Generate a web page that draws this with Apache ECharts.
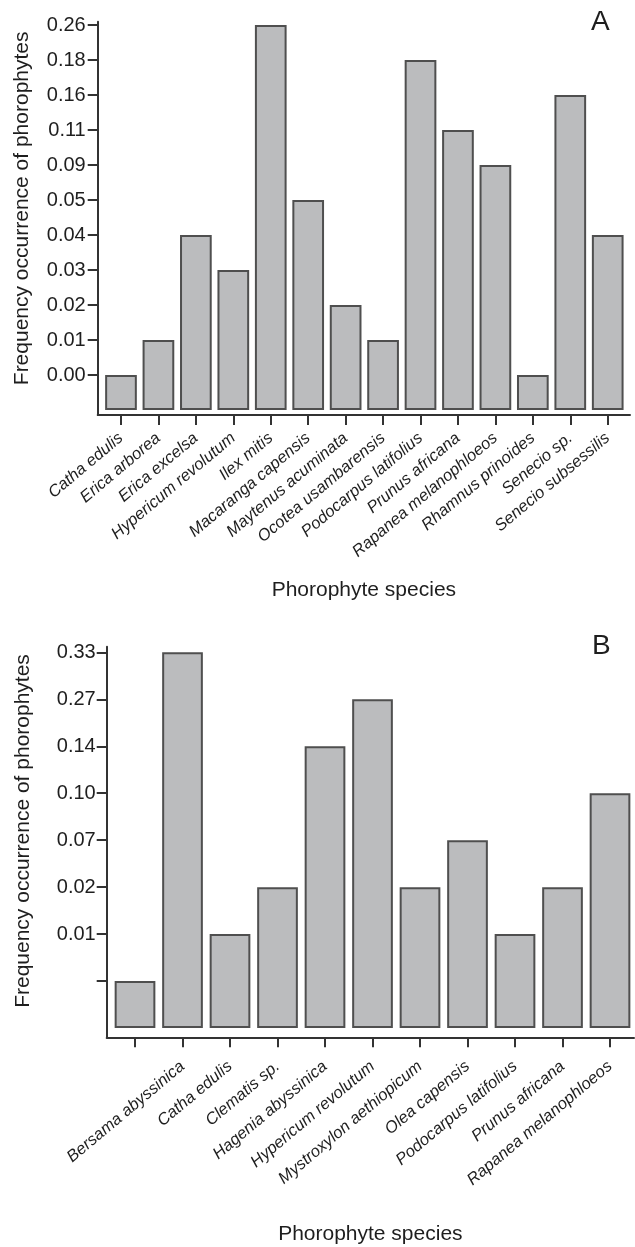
<!DOCTYPE html>
<html>
<head>
<meta charset="utf-8">
<script src="https://cdn.jsdelivr.net/npm/echarts@6/dist/echarts.min.js"></script>
<style>
html,body{margin:0;padding:0;background:#fff;}
#c{width:635px;height:1247px;}
</style>
</head>
<body>
<div id="c"></div>
<script>
// Panel A data
var categoriesA = ['Catha edulis','Erica arborea','Erica excelsa','Hypericum revolutum','Ilex mitis','Macaranga capensis','Maytenus acuminata','Ocotea usambarensis','Podocarpus latifolius','Prunus africana','Rapanea melanophloeos','Rhamnus prinoides','Senecio sp.','Senecio subsessilis'];
var valuesA = [0.00,0.01,0.04,0.03,0.26,0.05,0.02,0.01,0.18,0.11,0.09,0.00,0.16,0.04];
var tickValuesA = [0.00,0.01,0.02,0.03,0.04,0.05,0.09,0.11,0.16,0.18,0.26];
var tickLabelsA = ['0.00','0.01','0.02','0.03','0.04','0.05','0.09','0.11','0.16','0.18','0.26'];

// Panel B data (first category and lowest level are unlabeled in the original)
var categoriesB = ['','Bersama abyssinica','Catha edulis','Clematis sp.','Hagenia abyssinica','Hypericum revolutum','Mystroxylon aethiopicum','Olea capensis','Podocarpus latifolius','Prunus africana','Rapanea melanophloeos'];
var valuesB = [0.00,0.33,0.01,0.02,0.14,0.27,0.02,0.07,0.01,0.02,0.10];
var tickValuesB = [0.00,0.01,0.02,0.07,0.10,0.14,0.27,0.33];
var tickLabelsB = ['','0.01','0.02','0.07','0.10','0.14','0.27','0.33'];

function rankData(vals, levels){
  return vals.map(function(v,i){ return [i, levels.indexOf(v)+1]; });
}
function range(n, start){ var a=[]; for(var i=0;i<n;i++) a.push(i+(start||0)); return a; }

var FONT = 'Liberation Sans, Arial, sans-serif';
var TXT = '#1e1e1e';
var AX = '#333333';

var chart = echarts.init(document.getElementById('c'), null, {renderer:'canvas'});

function xAxisCfg(gi, cats, min, max, nameGap, margin){
  return {
    type:'value', gridIndex:gi, min:min, max:max,
    name:'Phorophyte species', nameLocation:'middle', nameGap:nameGap,
    nameTextStyle:{fontFamily:FONT, fontSize:21, color:TXT},
    axisLine:{show:true, onZero:false, lineStyle:{color:AX, width:2}},
    axisTick:{show:true, length:10, inside:false, customValues:range(cats.length), lineStyle:{color:AX, width:2}},
    axisLabel:{show:true, customValues:range(cats.length), rotate:40, margin:margin,
      fontFamily:FONT, fontSize:16.5, fontStyle:'italic', color:TXT,
      formatter:function(v){ return cats[Math.round(v)]; }},
    splitLine:{show:false}
  };
}
function yAxisCfg(gi, labels, min, max, nameGap, pad, margin){
  return {
    type:'value', gridIndex:gi, min:min, max:max,
    name:'Frequency occurrence of phorophytes', nameLocation:'middle', nameGap:nameGap,
    nameTextStyle:{fontFamily:FONT, fontSize:21, color:TXT, padding:[0,0,0,pad]},
    axisLine:{show:true, onZero:false, lineStyle:{color:AX, width:2}},
    axisTick:{show:true, length:10, customValues:range(labels.length,1), lineStyle:{color:AX, width:2}},
    axisLabel:{show:true, customValues:range(labels.length,1), margin:margin,
      fontFamily:FONT, fontSize:20, color:TXT,
      formatter:function(v){ return labels[Math.round(v)-1]; }},
    splitLine:{show:false}
  };
}
var barStyle = {color:'#bbbcbe', borderColor:'#4f4f4f', borderWidth:2};

chart.setOption({
  animation:false,
  backgroundColor:'#ffffff',
  title:[
    {text:'A', left:591, top:8, padding:0, textStyle:{fontFamily:FONT, fontSize:28, fontWeight:'normal', color:TXT}},
    {text:'B', left:592, top:632, padding:0, textStyle:{fontFamily:FONT, fontSize:28, fontWeight:'normal', color:TXT}}
  ],
  grid:[
    {left:97.7, top:21.7, width:532.3, height:393.3},
    {left:106.7, top:646.7, width:527.3, height:390.6}
  ],
  xAxis:[
    xAxisCfg(0, categoriesA, -0.622, 13.595, 165, 21),
    xAxisCfg(1, categoriesB, -0.596, 10.505, 186, 27)
  ],
  yAxis:[
    yAxisCfg(0, tickLabelsA, -0.143, 11.094, 65, 20, 12),
    yAxisCfg(1, tickLabelsB, -0.198, 8.12, 73, 22, 11)
  ],
  series:[
    {type:'bar', xAxisIndex:0, yAxisIndex:0, barWidth:31.7, data:rankData(valuesA, tickValuesA), itemStyle:barStyle},
    {type:'bar', xAxisIndex:1, yAxisIndex:1, barWidth:40.7, data:rankData(valuesB, tickValuesB), itemStyle:barStyle}
  ]
});
</script>
</body>
</html>
